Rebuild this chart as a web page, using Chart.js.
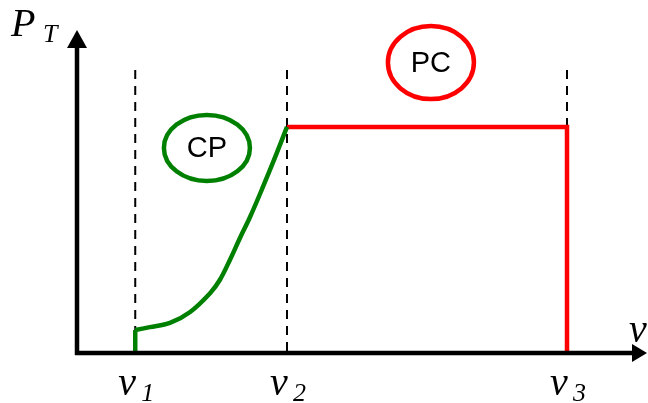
<!DOCTYPE html>
<html>
<head>
<meta charset="utf-8">
<script src="https://cdn.jsdelivr.net/npm/chart.js@4/dist/chart.umd.min.js"></script>
<style>
  html, body { margin: 0; padding: 0; background: #fff; }
  #wrap { width: 648px; height: 403px; }
</style>
</head>
<body>
<div id="wrap"><canvas id="myChart" width="648" height="403"></canvas></div>
<script>
// positions on the v axis (0..10) and P axis (0..10)
const tickNames = ['1', '2', '3'];
const tickValues = [1.04, 3.75, 8.75];
const guideTop = 8.76;

// CP branch (green): short riser, then the curve
const riserX = [1.04, 1.04];
const riserY = [0, 0.71];
const cpX = [1.04, 1.30, 1.66, 2.02, 2.38, 2.55, 2.73, 2.91, 3.09, 3.32, 3.54, 3.75];
const cpY = [0.71, 0.80, 0.93, 1.27, 1.86, 2.26, 2.88, 3.56, 4.21, 5.14, 6.07, 7.0];

// PC branch (red)
const pcX = [3.75, 8.75, 8.75];
const pcY = [7.0, 7.0, 0];

// bubble labels: [text, x, y, colour]
const bubbles = [
  ['CP', 2.32, 6.35, '#008000'],
  ['PC', 6.32, 8.99, '#ff0000']
];

const toPts = (xs, ys) => xs.map((x, i) => ({x: x, y: ys[i]}));

const guideSets = tickValues.map(v => ({
  data: [{x: v, y: guideTop}, {x: v, y: -0.15}],
  borderColor: '#000',
  borderWidth: 2,
  borderDash: [9, 7],
  pointRadius: 0,
  clip: false,
  order: 5
}));

const decor = {
  id: 'decor',
  afterDatasetsDraw(chart) {
    const ctx = chart.ctx;
    const xs = chart.scales.x, ys = chart.scales.y;
    const a = chart.chartArea;
    const x0 = xs.getPixelForValue(0), y0 = ys.getPixelForValue(0);
    ctx.save();
    // axes
    ctx.strokeStyle = '#000';
    ctx.fillStyle = '#000';
    ctx.lineWidth = 4.5;
    ctx.beginPath();
    ctx.moveTo(x0 - 2, y0);
    ctx.lineTo(a.right - 4, y0);
    ctx.moveTo(x0, y0 + 2);
    ctx.lineTo(x0, a.top + 16);
    ctx.stroke();
    ctx.beginPath();
    ctx.moveTo(a.right + 10, y0);
    ctx.lineTo(a.right - 5, y0 - 9);
    ctx.lineTo(a.right - 5, y0 + 9);
    ctx.closePath();
    ctx.fill();
    ctx.beginPath();
    ctx.moveTo(x0, a.top);
    ctx.lineTo(x0 - 10, a.top + 18);
    ctx.lineTo(x0 + 10, a.top + 18);
    ctx.closePath();
    ctx.fill();

    // bubbles
    bubbles.forEach(b => {
      const cx = xs.getPixelForValue(b[1]), cy = ys.getPixelForValue(b[2]);
      ctx.strokeStyle = b[3];
      ctx.lineWidth = 4.5;
      ctx.beginPath();
      ctx.ellipse(cx, cy, 43, b[0] === 'CP' ? 33 : 36.5, 0, 0, Math.PI * 2);
      ctx.stroke();
      ctx.fillStyle = '#000';
      ctx.font = '29px "Liberation Sans", Arial, sans-serif';
      ctx.textAlign = 'center';
      ctx.textBaseline = 'middle';
      ctx.fillText(b[0], cx, cy + 1);
    });

    // axis titles and tick labels
    ctx.fillStyle = '#000';
    ctx.textAlign = 'left';
    ctx.textBaseline = 'alphabetic';
    const big = 'italic 40px "Liberation Serif", "Times New Roman", serif';
    const small = 'italic 26px "Liberation Serif", "Times New Roman", serif';
    ctx.font = big;
    ctx.fillText('P', 11, 36);
    ctx.font = small;
    ctx.fillText('T', 43, 42);
    ctx.font = big;
    ctx.fillText('v', 629, 342);
    tickValues.forEach((v, i) => {
      const px = xs.getPixelForValue(v);
      ctx.font = big;
      ctx.fillText('v', px - 17, 395);
      ctx.font = small;
      ctx.fillText(tickNames[i], px + 6, 401);
    });
    ctx.restore();
  }
};

const ctx = document.getElementById('myChart').getContext('2d');
const myChart = new Chart(ctx, {
  type: 'line',
  data: {
    datasets: [
      {
        data: toPts(riserX, riserY),
        borderColor: '#008000',
        borderWidth: 4.5,
        pointRadius: 0,
        tension: 0,
        clip: false,
        order: 1
      },
      {
        data: toPts(cpX, cpY),
        borderColor: '#008000',
        borderWidth: 4.5,
        pointRadius: 0,
        tension: 0.35,
        clip: false,
        order: 1
      },
      {
        data: toPts(pcX, pcY),
        borderColor: '#ff0000',
        borderWidth: 4.5,
        pointRadius: 0,
        tension: 0,
        clip: false,
        order: 1
      },
      ...guideSets
    ]
  },
  options: {
    responsive: false,
    animation: false,
    layout: { padding: { left: 77, right: 11, top: 30, bottom: 50 } },
    plugins: { legend: { display: false }, tooltip: { enabled: false } },
    scales: {
      x: { type: 'linear', min: 0, max: 10, display: false },
      y: { type: 'linear', min: 0, max: 10, display: false }
    }
  },
  plugins: [decor]
});
</script>
</body>
</html>
